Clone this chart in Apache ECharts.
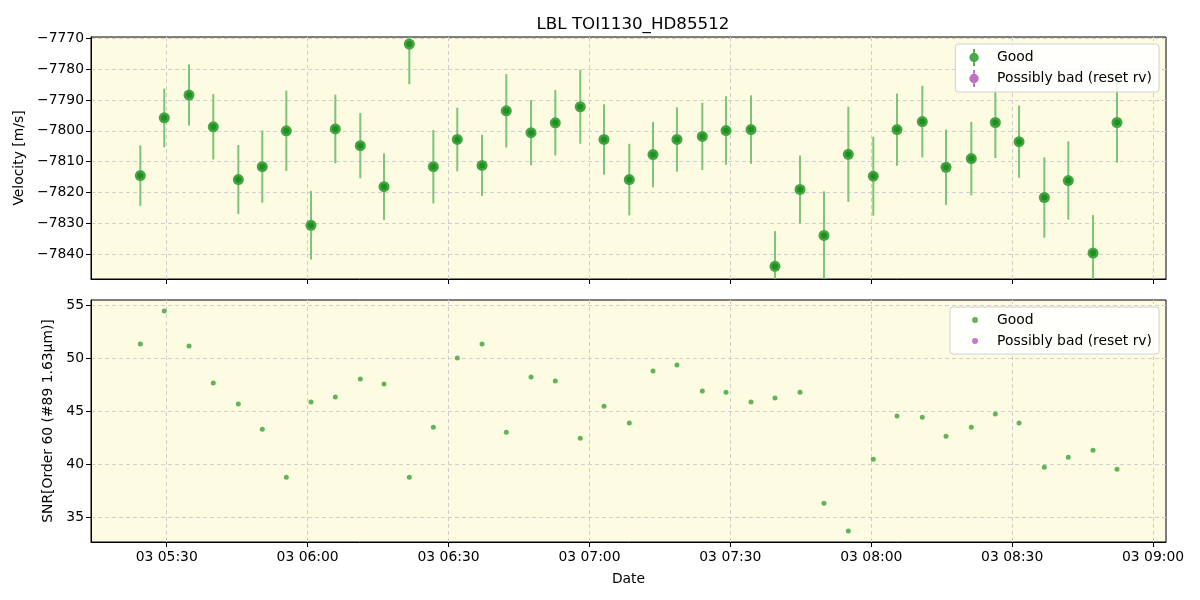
<!DOCTYPE html>
<html>
<head>
<meta charset="utf-8">
<script src="https://cdn.jsdelivr.net/npm/echarts@6/dist/echarts.min.js"></script>
<style>html,body{margin:0;padding:0;background:#fff}#c{width:1200px;height:600px}</style>
</head>
<body>
<div id="c"></div>
<script>
// ---- data ----
const obsDay = '2024-01-03';
const times = ['05:24:23','05:29:29','05:34:45','05:39:55','05:45:15','05:50:21','05:55:28','06:00:43','06:05:54','06:11:13','06:16:16','06:21:39','06:26:46','06:31:52','06:37:08','06:42:18','06:47:34','06:52:44','06:58:03','07:03:06','07:08:29','07:13:32','07:18:38','07:24:02','07:29:05','07:34:24','07:39:30','07:44:50','07:49:56','07:55:07','08:00:26','08:05:29','08:10:52','08:15:55','08:21:18','08:26:25','08:31:28','08:36:51','08:41:57','08:47:13','08:52:19'];
const rv = [-7814.5,-7795.8,-7788.4,-7798.7,-7815.8,-7811.6,-7800.0,-7830.6,-7799.4,-7804.8,-7818.1,-7771.9,-7811.6,-7802.8,-7811.2,-7793.5,-7800.6,-7797.4,-7792.2,-7802.8,-7815.8,-7807.7,-7802.8,-7801.8,-7799.9,-7799.6,-7843.9,-7819.0,-7833.9,-7807.6,-7814.7,-7799.6,-7797.0,-7811.8,-7809.0,-7797.3,-7803.5,-7821.6,-7816.1,-7839.6,-7797.3];
const rvErr = [9.8,9.5,9.9,10.6,11.2,11.7,13.0,11.1,11.1,10.6,10.75,13.0,11.9,10.3,9.9,11.9,10.6,10.6,12.0,11.4,11.6,10.6,10.4,10.9,11.1,11.1,11.4,11.0,14.3,15.4,12.8,11.7,11.6,12.2,11.9,11.5,11.7,13.0,12.7,12.3,13.0];
const snr = [51.32,54.43,51.13,47.64,45.66,43.30,38.77,45.85,46.32,48.02,47.55,38.77,43.49,50.0,51.32,43.02,48.21,47.83,42.45,45.47,43.87,48.77,49.34,46.89,46.79,45.85,46.23,46.79,36.32,33.71,40.47,44.53,44.43,42.64,43.49,44.72,43.87,39.72,40.66,41.32,39.53];
const badTimes = [];
const badRv = [];
const badSnr = [];
const xTickTimes = ['05:30','06:00','06:30','07:00','07:30','08:00','08:30','09:00'];
const xRange = ['05:13:53','09:02:45'];
const rvTicks = [-7840,-7830,-7820,-7810,-7800,-7790,-7780,-7770];
const rvRange = [-7848.0,-7769.6];
const snrTicks = [35,40,45,50,55];
const snrRange = [32.67,55.47];

// ---- helpers ----
const toMs = t => { const p = t.split(':').map(Number); const d = obsDay.split('-').map(Number);
  return Date.UTC(d[0], d[1]-1, d[2], p[0], p[1], p[2]||0); };
const xs = times.map(toMs);
const pad = n => String(n).padStart(2,'0');
const fmtX = v => { const d = new Date(v); return pad(d.getUTCDate()) + ' ' + pad(d.getUTCHours()) + ':' + pad(d.getUTCMinutes()); };
const fmtY = v => String(v).replace('-', '\u2212');

const FONT = 'DejaVu Sans';
const FS = 13.9;
const GREEN_BAR = '#7cc47a';
const GREEN_OUT = '#43a443';
const GREEN_IN = '#1f8f1f';
const GREEN_DOT = '#62b45a';
const PURPLE = '#b55ab8';
const GRID_LINE = { show: true, lineStyle: { color: '#cfcfcf', type: [4, 3], width: 1 } };
const ERR_ICON = 'path://M5,0h2v4.2h-2z M5,13.8h2v4.2h-2z M1,9a5,5 0 1,0 10,0a5,5 0 1,0 -10,0z';

const xCommon = (gi, showLabel) => ({
  type: 'value', gridIndex: gi, min: toMs(xRange[0]), max: toMs(xRange[1]),
  axisLine: { show: true, lineStyle: { color: '#000', width: 1 } },
  axisTick: { show: true, length: 5, lineStyle: { color: '#000' }, customValues: xTickTimes.map(toMs) },
  axisLabel: { show: showLabel, customValues: xTickTimes.map(toMs), formatter: fmtX, color: '#000', fontFamily: FONT, fontSize: FS, margin: 8 },
  splitLine: GRID_LINE,
  name: showLabel ? 'Date' : '', nameLocation: 'middle', nameGap: 30,
  nameTextStyle: { color: '#000', fontFamily: FONT, fontSize: FS }
});
const yCommon = (gi, range, ticks, name, gap) => ({
  type: 'value', gridIndex: gi, min: range[0], max: range[1],
  axisLine: { show: true, lineStyle: { color: '#000', width: 1 } },
  axisTick: { show: true, length: 5, lineStyle: { color: '#000' }, customValues: ticks },
  axisLabel: { customValues: ticks, formatter: fmtY, color: '#000', fontFamily: FONT, fontSize: FS, margin: 7 },
  splitLine: GRID_LINE,
  name: name, nameLocation: 'middle', nameGap: gap,
  nameTextStyle: { color: '#000', fontFamily: FONT, fontSize: FS }
});

const errData = xs.map((x, i) => [x, rv[i], rvErr[i]]);

const legendBase = {
  orient: 'vertical', right: 41,
  backgroundColor: 'rgba(255,255,255,0.85)', borderColor: '#d0d0d0', borderWidth: 1, borderRadius: 3,
  selectedMode: false
};

const chart = echarts.init(document.getElementById('c'), null, { renderer: 'canvas' });
chart.setOption({
  animation: false,
  backgroundColor: '#fff',
  title: { text: 'LBL TOI1130_HD85512', left: 628, top: 11, textAlign: 'center',
    textStyle: { fontFamily: FONT, fontSize: 16.7, fontWeight: 'normal', color: '#000' } },
  grid: [
    { left: 91, top: 37, width: 1075, height: 242, show: true, backgroundColor: '#fdfce2', borderColor: '#000', borderWidth: 1 },
    { left: 91, top: 300, width: 1075, height: 242, show: true, backgroundColor: '#fdfce2', borderColor: '#000', borderWidth: 1 }
  ],
  xAxis: [ xCommon(0, false), xCommon(1, true) ],
  yAxis: [
    yCommon(0, rvRange, rvTicks, 'Velocity [m/s]', 62),
    yCommon(1, snrRange, snrTicks, 'SNR[Order 60 (#89 1.63\u03bcm)]', 36)
  ],
  legend: [
    Object.assign({}, legendBase, { top: 44, padding: [5, 7, 5, 14], itemGap: 4, itemWidth: 12, itemHeight: 17,
      textStyle: { fontFamily: FONT, fontSize: FS, color: '#000', padding: [0, 0, 0, 12] },
      data: [
        { name: 'Good', icon: ERR_ICON, itemStyle: { color: '#4aa84a' } },
        { name: 'Possibly bad (reset rv)', icon: ERR_ICON, itemStyle: { color: '#b04db4' } }
      ] }),
    Object.assign({}, legendBase, { top: 307, padding: [5, 7, 5, 22], itemGap: 5, itemWidth: 6, itemHeight: 6,
      textStyle: { fontFamily: FONT, fontSize: FS, color: '#000', padding: [0, 0, 0, 14], lineHeight: 16 },
      data: [
        { name: 'Good', icon: 'circle', itemStyle: { color: GREEN_DOT } },
        { name: 'Possibly bad (reset rv)', icon: 'circle', itemStyle: { color: PURPLE } }
      ] })
  ],
  series: [
    { name: '_err', type: 'custom', xAxisIndex: 0, yAxisIndex: 0, data: errData, z: 2,
      renderItem: function (params, api) {
        const x = api.value(0), y = api.value(1), e = api.value(2);
        const p1 = api.coord([x, y - e]), p2 = api.coord([x, y + e]);
        const cs = params.coordSys;
        const top = Math.max(cs.y, Math.min(p1[1], p2[1]));
        const bot = Math.min(cs.y + cs.height, Math.max(p1[1], p2[1]));
        return { type: 'line', shape: { x1: p1[0], y1: top, x2: p1[0], y2: bot },
          style: { stroke: GREEN_BAR, lineWidth: 2 } };
      } },
    { name: 'Good', type: 'scatter', xAxisIndex: 0, yAxisIndex: 0, data: xs.map((x, i) => [x, rv[i]]),
      symbol: 'circle', symbolSize: 11, itemStyle: { color: GREEN_OUT, opacity: 1 }, z: 3 },
    { name: '_core', type: 'scatter', xAxisIndex: 0, yAxisIndex: 0, data: xs.map((x, i) => [x, rv[i]]),
      symbol: 'circle', symbolSize: 6, itemStyle: { color: GREEN_IN, opacity: 1 }, z: 4 },
    { name: 'Possibly bad (reset rv)', type: 'scatter', xAxisIndex: 0, yAxisIndex: 0,
      data: badTimes.map((t, i) => [toMs(t), badRv[i]]), itemStyle: { color: PURPLE } },
    { name: 'Good', type: 'scatter', xAxisIndex: 1, yAxisIndex: 1, data: xs.map((x, i) => [x, snr[i]]),
      symbol: 'circle', symbolSize: 5, itemStyle: { color: GREEN_DOT, opacity: 1 }, z: 3 },
    { name: 'Possibly bad (reset rv)', type: 'scatter', xAxisIndex: 1, yAxisIndex: 1,
      data: badTimes.map((t, i) => [toMs(t), badSnr[i]]), itemStyle: { color: PURPLE } }
  ]
});
</script>
</body>
</html>
